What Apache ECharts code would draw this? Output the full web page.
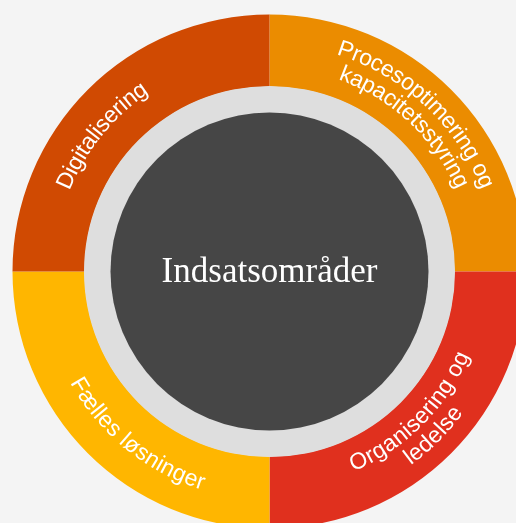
<!DOCTYPE html>
<html>
<head>
<meta charset="utf-8">
<script src="https://cdn.jsdelivr.net/npm/echarts@6/dist/echarts.min.js"></script>
<style>
  html, body { margin: 0; padding: 0; background: #f4f4f4; }
  #chart { width: 516px; height: 523px; }
</style>
</head>
<body>
<div id="chart"></div>
<script>
// segments clockwise from 12 o'clock
const segmentNames = ['Procesoptimering og\nkapacitetsstyring', 'Organisering og\nledelse', 'Fælles løsninger', 'Digitalisering'];
const segmentValues = [25, 25, 25, 25];
const segmentColors = ['#eb8c00', '#e0301e', '#ffb600', '#d04a02'];
const centerTitle = 'Indsatsområder';

// label placement tweaks (degrees, counterclockwise), styling only
const labelAngleShift = [2, 0, 6, 6];

const CENTER = [269.5, 271.5];
const R_OUTER = 257;
const R_RING = 185.5;
const R_CORE = 159;
const LABEL_R = 222;
const LINE_H = 23;
const FONT_SIZE = 23;
const FONT_FAMILY = '"Liberation Sans", Arial, sans-serif';

const chart = echarts.init(document.getElementById('chart'));

const measureCtx = document.createElement('canvas').getContext('2d');
measureCtx.font = `${FONT_SIZE}px ${FONT_FAMILY}`;

const total = segmentValues.reduce((a, b) => a + b, 0);
// middle angle of each slice (counterclockwise from 3 o'clock)
const midAngles = [];
let acc = 0;
segmentValues.forEach((v, i) => {
  let a = 90 - ((acc + v / 2) / total) * 360 + labelAngleShift[i];
  a = ((a % 360) + 360) % 360;
  midAngles.push(a);
  acc += v;
});

// lay each character of the slice name along its arc
function arcText(params, api) {
  const idx = params.dataIndex;
  const mid = midAngles[idx];
  const top = Math.sin((mid * Math.PI) / 180) > 0;
  const lines = segmentNames[idx].split('\n');
  const n = lines.length;
  const children = [];
  lines.forEach((line, k) => {
    const r = top
      ? LABEL_R + ((n - 1) / 2) * LINE_H - k * LINE_H
      : LABEL_R - ((n - 1) / 2) * LINE_H + k * LINE_H;
    const width = measureCtx.measureText(line).width;
    let x = 0;
    for (const ch of line) {
      const w = measureCtx.measureText(ch).width;
      const s = x + w / 2 - width / 2;
      const d = ((s / r) * 180) / Math.PI;
      const a = top ? mid - d : mid + d;
      const p = api.coord([r, ((a % 360) + 360) % 360]);
      const rot = top ? a - 90 : a + 90;
      children.push({
        type: 'text',
        x: p[0],
        y: p[1],
        rotation: (rot * Math.PI) / 180,
        style: {
          text: ch,
          fill: '#ffffff',
          fontSize: FONT_SIZE,
          fontFamily: FONT_FAMILY,
          align: 'center',
          verticalAlign: 'middle',
        },
      });
      x += w;
    }
  });
  return { type: 'group', children };
}

const option = {
  backgroundColor: '#f4f4f4',
  animation: false,
  polar: {
    center: CENTER,
    radius: R_OUTER,
  },
  radiusAxis: { type: 'value', min: 0, max: R_OUTER, show: false, splitLine: { show: false } },
  angleAxis: { type: 'value', min: 0, max: 360, startAngle: 0, clockwise: false, show: false, splitLine: { show: false } },
  series: [
    {
      type: 'pie',
      center: CENTER,
      radius: [R_RING - 0.5, R_OUTER],
      startAngle: 90,
      clockwise: true,
      silent: true,
      label: { show: false },
      labelLine: { show: false },
      itemStyle: { borderWidth: 0 },
      data: segmentNames.map((name, i) => ({
        name,
        value: segmentValues[i],
        itemStyle: { color: segmentColors[i] },
      })),
    },
    {
      type: 'pie',
      center: CENTER,
      radius: [R_CORE - 0.5, R_RING],
      silent: true,
      label: { show: false },
      labelLine: { show: false },
      itemStyle: { color: '#dedede', borderWidth: 0 },
      data: [{ name: 'ring', value: 1 }],
    },
    {
      type: 'pie',
      center: CENTER,
      radius: [0, R_CORE],
      silent: true,
      labelLine: { show: false },
      itemStyle: { color: '#464646', borderWidth: 0 },
      label: {
        show: true,
        position: 'center',
        formatter: centerTitle,
        color: '#ffffff',
        fontFamily: '"Liberation Serif", "DejaVu Serif", serif',
        fontSize: 35,
        offset: [0, 1],
      },
      data: [{ name: centerTitle, value: 1 }],
    },
    {
      type: 'custom',
      coordinateSystem: 'polar',
      silent: true,
      z: 10,
      renderItem: arcText,
      data: segmentNames.map((name, i) => [100, i * 10]),
    },
  ],
};

chart.setOption(option);
</script>
</body>
</html>
